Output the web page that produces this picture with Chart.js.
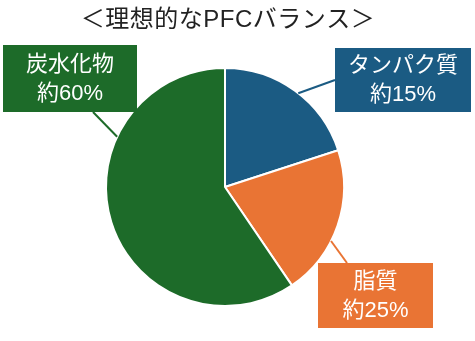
<!DOCTYPE html>
<html>
<head>
<meta charset="utf-8">
<script src="https://cdn.jsdelivr.net/npm/chart.js@4"></script>
<style>
  body { margin: 0; background: #fff; }
  #wrap { width: 475px; height: 341px; }
</style>
</head>
<body>
<div id="wrap"><canvas id="pfc"></canvas></div>
<script>
const titleText = '＜理想的なPFCバランス＞';
const categories = ['タンパク質', '脂質', '炭水化物'];
const sliceValues = [20, 20.5, 59.5];
const percentLabels = ['約15%', '約25%', '約60%'];
const sliceColors = ['#1b5b83', '#e97434', '#1d6b29'];

const FONT = '"Liberation Sans", "Noto Sans CJK JP", sans-serif';

// label boxes: box rect, leader line start on box, and angle (deg from top, clockwise) where it meets the pie
const boxes = [
  { x: 335, y: 48, w: 136, h: 64, from: [335, 80], angle: 38 },
  { x: 318, y: 263, w: 115, h: 65, from: [347, 263], angle: 117 },
  { x: 3, y: 45, w: 134, h: 67, from: [93, 112], angle: 295 }
];

const boxLabels = {
  id: 'boxLabels',
  afterDatasetsDraw(chart) {
    const ctx = chart.ctx;
    const arcs = chart.getDatasetMeta(0).data;
    arcs.forEach((arc, i) => {
      const b = boxes[i];
      const a = (b.angle - 90) * Math.PI / 180;
      const r = arc.outerRadius;
      ctx.save();
      ctx.strokeStyle = sliceColors[i];
      ctx.lineWidth = 2;
      ctx.beginPath();
      ctx.moveTo(b.from[0], b.from[1]);
      ctx.lineTo(arc.x + Math.cos(a) * r, arc.y + Math.sin(a) * r);
      ctx.stroke();
      ctx.fillStyle = sliceColors[i];
      ctx.fillRect(b.x, b.y, b.w, b.h);
      ctx.fillStyle = '#fff';
      ctx.font = '22px ' + FONT;
      ctx.textAlign = 'center';
      ctx.textBaseline = 'middle';
      const cx = b.x + b.w / 2;
      ctx.fillText(categories[i], cx, b.y + b.h / 2 - 14);
      ctx.fillText(percentLabels[i], cx, b.y + b.h / 2 + 15);
      ctx.restore();
    });

    // title, drawn here so the letter spacing can be widened
    ctx.save();
    ctx.fillStyle = '#222';
    ctx.font = '24px ' + FONT;
    ctx.letterSpacing = '0.5px';
    ctx.textAlign = 'center';
    ctx.textBaseline = 'middle';
    ctx.fillText(titleText, 228, 20);
    ctx.restore();
  }
};

new Chart(document.getElementById('pfc'), {
  type: 'pie',
  data: {
    labels: categories,
    datasets: [{
      data: sliceValues,
      backgroundColor: sliceColors,
      borderColor: '#fff',
      borderWidth: 2
    }]
  },
  options: {
    responsive: true,
    maintainAspectRatio: false,
    animation: false,
    layout: { padding: { top: 67, left: 105, right: 130, bottom: 34 } },
    plugins: {
      legend: { display: false },
      tooltip: { enabled: false },
      title: { display: false }
    }
  },
  plugins: [boxLabels]
});
</script>
</body>
</html>
